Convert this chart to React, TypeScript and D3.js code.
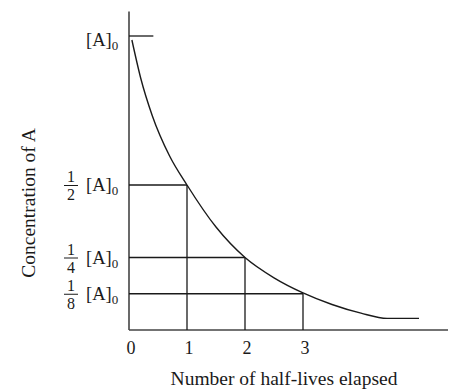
import * as d3 from "d3";

// half-life marks and their concentration levels (fraction of [A]0)
const halfLives = [1, 2, 3];
const levelValues = [1, 0.5, 0.25, 0.125];
const levelDenominators = [0, 2, 4, 8];
const xTickValues = [0, 1, 2, 3];
const xTickLabels = ["0", "1", "2", "3"];

// decay curve
const curveT = [0.05, 0.2, 0.4, 0.7, 1, 1.5, 2, 2.5, 3, 3.5, 4, 4.45, 5];
const curveC = [1.0, 0.87, 0.74, 0.6, 0.5, 0.355, 0.25, 0.18, 0.128, 0.088, 0.058, 0.04, 0.04];

const W = 456;
const H = 389;
const font = "'Liberation Serif', 'DejaVu Serif', serif";
const ink = "#1a1a1a";

export default function App() {
  const x = d3.scaleLinear().domain([0, 5.5]).range([129, 448]);
  const y = d3.scaleLinear().domain([0, 1]).range([330, 40]);

  const line = d3
    .line<number>()
    .x((_, i) => x(curveT[i]))
    .y((d) => y(d))
    .curve(d3.curveMonotoneX);

  return (
    <svg
      width={W}
      height={H}
      style={{ position: "absolute", left: 0, top: 0, background: "#fff" }}
      fontFamily={font}
    >
      {/* axes */}
      <line x1={x(0)} x2={x(0)} y1={y(1.098)} y2={y(0)} stroke="#444" strokeWidth={1.6} />
      <line x1={x(0)} x2={x(5.5)} y1={y(0)} y2={y(0)} stroke="#444" strokeWidth={1.6} />

      {/* top [A]0 tick */}
      <line x1={x(0)} x2={x(0.42)} y1={y(1) - 4} y2={y(1) - 4} stroke={ink} strokeWidth={1.3} />

      {/* half-life guides */}
      {halfLives.map((t, i) => {
        const c = levelValues[i + 1];
        return (
          <g key={`g-${t}`} stroke={ink} strokeWidth={1.3}>
            <line x1={x(0)} x2={x(t)} y1={y(c)} y2={y(c)} />
            <line x1={x(t)} x2={x(t)} y1={y(c)} y2={y(0)} />
          </g>
        );
      })}

      {/* decay curve */}
      <path d={line(curveC) ?? ""} fill="none" stroke={ink} strokeWidth={1.4} />

      {/* y level labels */}
      {levelValues.map((v, i) => (
        <g key={`lv-${v}`} fill={ink}>
          {levelDenominators[i] > 0 && (
            <g fontSize={16} textAnchor="middle">
              <text x={71} y={y(v) - 3}>1</text>
              <line x1={64} x2={78} y1={y(v) + 0.5} y2={y(v) + 0.5} stroke={ink} strokeWidth={1} />
              <text x={71} y={y(v) + 15}>{levelDenominators[i]}</text>
            </g>
          )}
          <text x={86} y={y(v) + 6} fontSize={18.5}>
            [A]
            <tspan fontSize={13} dy={4}>0</tspan>
          </text>
        </g>
      ))}

      {/* x tick labels */}
      {xTickValues.map((t, i) => (
        <text key={`xt-${t}`} x={x(t) + 2} y={354} fontSize={18} textAnchor="middle" fill={ink}>
          {xTickLabels[i]}
        </text>
      ))}

      {/* axis titles */}
      <text x={284} y={385} fontSize={19.5} textAnchor="middle" fill={ink}>
        Number of half-lives elapsed
      </text>
      <text
        transform={`translate(35, 203) rotate(-90)`}
        fontSize={19.5}
        textAnchor="middle"
        fill={ink}
      >
        Concentration of A
      </text>
    </svg>
  );
}
